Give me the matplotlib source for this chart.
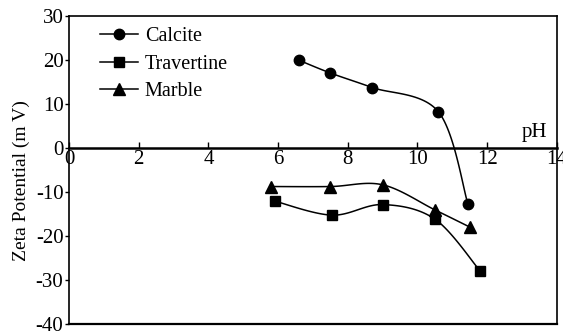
import numpy as np
import matplotlib
matplotlib.use("Agg")
import matplotlib.pyplot as plt

plt.rcParams['font.family'] = ['Liberation Serif', 'DejaVu Serif']
plt.rcParams['axes.unicode_minus'] = False

# values
calcite_ph = [6.6, 7.5, 8.7, 10.6, 11.45]
calcite_zeta = [20.0, 17.1, 13.8, 8.3, -12.7]
travertine_ph = [5.9, 7.55, 9.0, 10.5, 11.8]
travertine_zeta = [-12.0, -15.2, -12.8, -16.1, -27.9]
marble_ph = [5.8, 7.5, 9.0, 10.5, 11.5]
marble_zeta = [-8.7, -8.7, -8.3, -14.0, -17.9]

x_ticks = [0, 2, 4, 6, 8, 10, 12, 14]
y_ticks = [-40, -30, -20, -10, 0, 10, 20, 30]


def smooth(xs, ys, n=30):
    # catmull-rom through the points, like a spreadsheet "smoothed line"
    p = np.column_stack([xs, ys]).astype(float)
    p = np.vstack([p[0], p, p[-1]])
    out = []
    for i in range(1, len(p) - 2):
        p0, p1, p2, p3 = p[i - 1], p[i], p[i + 1], p[i + 2]
        t = np.linspace(0, 1, n)[:, None]
        seg = 0.5 * ((2 * p1) + (-p0 + p2) * t + (2 * p0 - 5 * p1 + 4 * p2 - p3) * t ** 2
                     + (-p0 + 3 * p1 - 3 * p2 + p3) * t ** 3)
        out.append(seg)
    out = np.vstack(out)
    return out[:, 0], out[:, 1]


fig = plt.figure(figsize=(5.63, 3.32), dpi=100)
ax = fig.add_axes([0.1226, 0.0232, 0.8664, 0.928])

series = [
    ("Calcite", calcite_ph, calcite_zeta, 'o', 7.5),
    ("Travertine", travertine_ph, travertine_zeta, 's', 7),
    ("Marble", marble_ph, marble_zeta, '^', 8),
]
for name, xs, ys, mk, ms in series:
    sx, sy = smooth(xs, ys)
    ax.plot(sx, sy, color='black', lw=1.1, zorder=2)
    ax.plot(xs, ys, linestyle='none', marker=mk, ms=ms, color='black', zorder=3)
    # legend handle only
    ax.plot([], [], color='black', lw=1.1, marker=mk, ms=ms, label=name)

ax.set_xlim(0, 14)
ax.set_ylim(-40, 30)
ax.set_xticks(x_ticks)
ax.set_yticks(y_ticks)

ax.spines['bottom'].set_position(('data', 0))
ax.spines['bottom'].set_linewidth(1.8)
for k in ['top', 'left', 'right']:
    ax.spines[k].set_linewidth(1.2)
ax.plot([0, 1], [0, 0], transform=ax.transAxes, color='black', lw=1.6, clip_on=False)

ax.tick_params(axis='x', direction='in', length=4, width=1, labelsize=15, pad=1)
ax.tick_params(axis='y', direction='out', length=3, width=1, labelsize=15, pad=1)

ax.set_ylabel("Zeta Potential (m V)", fontsize=14)
ax.yaxis.set_label_coords(-0.08, 0.468)
ax.text(13.35, 1.4, "pH", fontsize=15, ha='center', va='bottom')

ax.legend(loc='upper left', bbox_to_anchor=(0.04, 1.0), frameon=False, fontsize=14.5,
          handlelength=1.9, handletextpad=0.35, labelspacing=0.42, borderaxespad=0.15)

fig.savefig("out.png", dpi=100)
